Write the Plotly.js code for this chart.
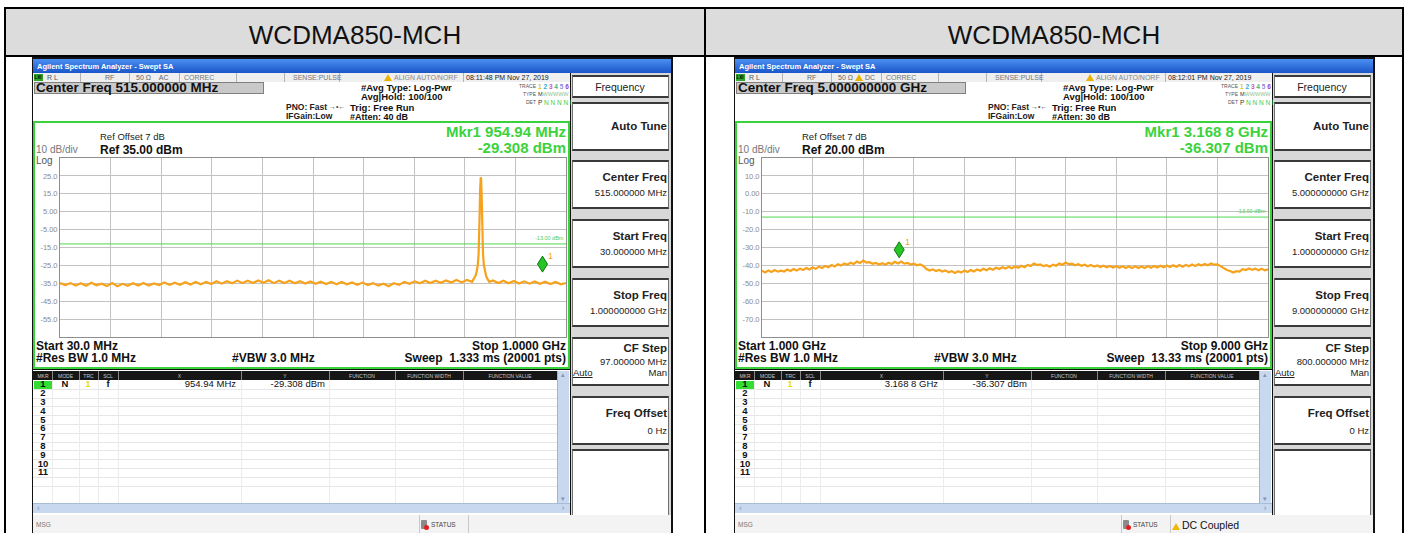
<!DOCTYPE html>
<html><head><meta charset="utf-8">
<script src="https://cdn.plot.ly/plotly-3.0.1.min.js"></script>
<style>
html,body{margin:0;padding:0;background:#fff;}
body{width:1408px;height:533px;overflow:hidden;position:relative;font-family:"Liberation Sans",Arial,sans-serif;}
.a{position:absolute;white-space:nowrap;}
.tri{display:inline-block;width:0;height:0;border-left:4px solid transparent;border-right:4px solid transparent;border-bottom:7px solid #e8b400;vertical-align:-1px;margin-right:2px;}
</style></head><body>
<script>
// ---------------- data ----------------
const panelTitles = ["WCDMA850-MCH", "WCDMA850-MCH"];

// Left sweep: 30 MHz - 1 GHz (MHz, dBm)
const freqL = [30,40,50,60,70,80,90,100,110,120,130,140,150,160,170,180,190,200,210,220,
  230,240,250,260,270,280,290,300,310,320,330,340,350,360,370,380,390,400,410,420,
  430,440,450,460,470,480,490,500,510,520,530,540,550,560,570,580,590,600,610,620,
  630,640,650,660,670,680,690,700,710,720,730,740,750,760,770,780,790,800,810,820,
  824,827,829,831,832.5,833.5,834.5,835.3,836,836.6,837.2,838,838.8,839.8,841,842.5,844.5,847,850,853,
  860,870,880,890,900,910,920,930,940,950,960,970,980,990,1000];
const ampL = [-34.8,-36.0,-34.9,-36.3,-35.0,-36.4,-34.7,-36.1,-35.2,-36.5,
  -34.9,-36.6,-35.3,-36.4,-35.0,-36.2,-34.8,-36.3,-35.1,-36.0,
  -34.6,-35.9,-34.7,-35.8,-34.4,-35.7,-34.3,-35.5,-34.2,-35.4,
  -33.9,-35.2,-33.8,-35.0,-33.5,-34.9,-33.6,-34.8,-33.4,-34.7,
  -33.3,-34.9,-33.5,-34.8,-33.6,-35.0,-33.8,-35.1,-34.0,-35.3,
  -34.1,-35.4,-34.2,-35.5,-34.3,-35.6,-34.5,-35.8,-34.6,-36.0,
  -34.9,-36.3,-35.2,-36.6,-35.0,-35.9,-34.2,-35.3,-33.9,-35.0,
  -33.6,-34.8,-33.5,-34.7,-33.4,-34.6,-33.2,-34.5,-33.1,-34.2,
  -32.0,-30.5,-28.2,-24.5,-18.5,-10.0,4.0,17.0,23.5,24.2,23.6,17.5,4.5,-10.0,-19.0,-24.8,-28.6,-31.0,-32.8,-34.2,
  -33.4,-34.8,-33.6,-35.0,-33.7,-35.1,-33.9,-35.2,-34.0,-35.3,-34.1,-35.4,-34.3,-35.6,-34.8];

// Right sweep: 1 GHz - 9 GHz (GHz, dBm)
const freqR = [1.00,1.05,1.10,1.15,1.20,1.25,1.30,1.35,1.40,1.45,
  1.50,1.55,1.60,1.65,1.70,1.75,1.80,1.85,1.90,1.95,
  2.00,2.05,2.10,2.15,2.20,2.25,2.30,2.35,2.40,2.45,
  2.50,2.55,2.60,2.65,2.70,2.75,2.80,2.85,2.90,2.95,
  3.00,3.05,3.10,3.15,3.20,3.25,3.30,3.35,3.40,3.45,
  3.50,3.55,3.60,3.65,3.70,3.75,3.80,3.85,3.90,3.95,
  4.00,4.05,4.10,4.15,4.20,4.25,4.30,4.35,4.40,4.45,
  4.50,4.55,4.60,4.65,4.70,4.75,4.80,4.85,4.90,4.95,
  5.00,5.05,5.10,5.15,5.20,5.25,5.30,5.35,5.40,5.45,
  5.50,5.55,5.60,5.65,5.70,5.75,5.80,5.85,5.90,5.95,
  6.00,6.05,6.10,6.15,6.20,6.25,6.30,6.35,6.40,6.45,
  6.50,6.55,6.60,6.65,6.70,6.75,6.80,6.85,6.90,6.95,
  7.00,7.05,7.10,7.15,7.20,7.25,7.30,7.35,7.40,7.45,
  7.50,7.55,7.60,7.65,7.70,7.75,7.80,7.85,7.90,7.95,
  8.00,8.05,8.10,8.15,8.20,8.25,8.30,8.35,8.40,8.45,
  8.50,8.55,8.60,8.65,8.70,8.75,8.80,8.85,8.90,8.95,9.00];
const ampR = [-43.0,-43.9,-42.8,-43.7,-42.6,-43.5,-42.9,-43.4,-42.3,-43.1,
  -42.0,-42.9,-41.8,-42.6,-41.5,-42.3,-41.2,-41.9,-40.7,-41.5,
  -40.3,-41.0,-39.8,-40.6,-39.3,-40.1,-38.9,-39.6,-38.5,-39.2,
  -37.9,-38.7,-37.3,-38.4,-38.2,-39.1,-38.6,-39.5,-38.8,-39.6,
  -38.5,-39.2,-38.0,-38.9,-37.9,-39.0,-38.6,-39.5,-39.0,-39.9,
  -39.4,-40.3,-42.0,-42.9,-42.2,-43.1,-42.5,-43.4,-42.8,-43.8,
  -43.2,-44.2,-43.3,-44.0,-42.9,-43.7,-42.6,-43.4,-42.3,-43.0,
  -41.9,-42.7,-41.6,-42.4,-41.3,-42.0,-41.0,-41.8,-40.8,-41.6,
  -40.6,-41.3,-40.2,-41.0,-39.7,-40.3,-38.9,-39.8,-39.5,-40.4,
  -39.9,-40.7,-39.6,-40.2,-38.9,-39.6,-38.4,-39.3,-39.0,-39.9,
  -39.3,-40.2,-39.6,-40.5,-39.8,-40.7,-40.0,-40.9,-40.2,-41.1,
  -40.3,-41.2,-40.4,-41.3,-40.5,-41.4,-40.6,-41.5,-40.5,-41.4,
  -40.6,-41.5,-40.4,-41.3,-40.3,-41.2,-40.2,-41.0,-40.1,-40.9,
  -39.9,-40.8,-39.8,-40.7,-39.7,-40.5,-39.5,-40.3,-39.3,-40.1,
  -39.2,-39.9,-38.9,-39.6,-39.4,-40.6,-41.3,-42.6,-43.1,-44.0,
  -43.2,-43.4,-42.1,-42.6,-41.7,-42.5,-41.8,-42.7,-41.9,-42.8,-42.2];

const sweepRanges = [[30, 1000], [1, 9]];
const refLevels = [35, 20];            // dBm, 10 dB/div, 10 divisions
const yTickValsL = [25, 15, 5, -5, -15, -25, -35, -45, -55];
const yTickTextL = ["25.0", "15.0", "5.00", "-5.00", "-15.0", "-25.0", "-35.0", "-45.0", "-55.0"];
const yTickValsR = [10, 0, -10, -20, -30, -40, -50, -60, -70];
const yTickTextR = ["10.0", "0.00", "-10.0", "-20.0", "-30.0", "-40.0", "-50.0", "-60.0", "-70.0"];
const markerFreqs = [954.94, 3.1688];
const markerAmps = [-29.308, -36.307];
const limitDbm = -13;

// screen texts for each analyzer capture
const screens = [
  {dx: 0, time: "08:11:48 PM Nov 27, 2019", dc: false, cf: "Center Freq 515.000000 MHz", atten: "#Atten: 40 dB",
   mkr: "Mkr1 954.94 MHz", mkrVal: "-29.308 dBm", ref: "Ref 35.00 dBm", start: "Start 30.0 MHz", stop: "Stop 1.0000 GHz",
   sweep: "Sweep&nbsp;&nbsp;1.333 ms (20001 pts)", soft: ["515.000000 MHz", "30.000000 MHz", "1.000000000 GHz", "97.000000 MHz"],
   tblX: "954.94 MHz", tblY: "-29.308 dBm"},
  {dx: 702, time: "08:12:01 PM Nov 27, 2019", dc: true, cf: "Center Freq 5.000000000 GHz", atten: "#Atten: 30 dB",
   mkr: "Mkr1 3.168 8 GHz", mkrVal: "-36.307 dBm", ref: "Ref 20.00 dBm", start: "Start 1.000 GHz", stop: "Stop 9.000 GHz",
   sweep: "Sweep&nbsp;&nbsp;13.33 ms (20001 pts)", soft: ["5.000000000 GHz", "1.000000000 GHz", "9.000000000 GHz", "800.000000 MHz"],
   tblX: "3.168 8 GHz", tblY: "-36.307 dBm"}
];

// ---------------- helpers ----------------
const B = document.body;
function box(x, y, w, h, css) {
  const d = document.createElement('div'); d.className = 'a';
  d.style.cssText = `left:${x}px;top:${y}px;width:${w}px;height:${h}px;` + (css || '');
  B.appendChild(d); return d;
}
function tx(x, yc, s, size, css, al, hh) {
  const d = document.createElement('div'); d.className = 'a';
  const h = hh || Math.ceil(size * 1.1);
  let st = `top:${(yc - h / 2).toFixed(1)}px;height:${h}px;line-height:${h}px;font-size:${size}px;`;
  if (al === 'r') st += `left:${x - 600}px;width:600px;text-align:right;`;
  else if (al === 'c') st += `left:${x - 300}px;width:600px;text-align:center;`;
  else st += `left:${x}px;`;
  d.style.cssText = st + (css || ''); d.innerHTML = s; B.appendChild(d); return d;
}

// ---------------- table frame ----------------
box(6, 9, 698, 46, 'background:#dcdcdc');
box(706, 9, 696, 46, 'background:#dcdcdc');
box(4, 7, 1400, 2, 'background:#000');
box(4, 55, 1400, 2, 'background:#000');
box(4, 7, 2, 526, 'background:#000');
box(704, 7, 2, 526, 'background:#000');
box(1402, 7, 2, 526, 'background:#000');
tx(355, 35, panelTitles[0], 26, 'color:#111', 'c');
tx(1054, 35, panelTitles[1], 26, 'color:#111', 'c');

// ---------------- analyzer screens ----------------
const bold = 'font-weight:bold;';
function shot(p) {
  const dx = p.dx;
  box(32 + dx, 57, 641, 476, 'background:#111');
  box(33 + dx, 59, 638, 14, 'background:linear-gradient(#4a90f2,#1b56c9)');
  tx(37 + dx, 66, 'Agilent Spectrum Analyzer - Swept SA', 7.5, 'color:#fff;' + bold);
  // status line
  box(33 + dx, 73, 537, 9, 'background:#efefef');
  [80, 129, 179, 236, 284, 339, 463].forEach(x => box(x + dx, 73, 1, 9, 'background:#b4b4b4'));
  box(34 + dx, 74, 9, 7, 'background:#2fa52f');
  tx(34.5 + dx, 77.5, 'LXI', 4.5, 'color:#000;' + bold);
  tx(47 + dx, 77.5, 'R L', 7, 'color:#555');
  tx(105 + dx, 77.5, 'RF', 7, 'color:#666');
  tx(136 + dx, 77.5, p.dc ? '50 Ω <span class="tri"></span>DC' : '50 Ω&nbsp;&nbsp;&nbsp;&nbsp;AC', 7, 'color:#666');
  tx(184 + dx, 77.5, 'CORREC', 7, 'color:#777');
  tx(293 + dx, 77.5, 'SENSE:PULSE', 7, 'color:#777');
  tx(384 + dx, 77.5, '<span class="tri"></span>ALIGN AUTO/NORF', 7, 'color:#888');
  tx(466 + dx, 77.5, p.time, 7, 'color:#222');
  // settings area
  box(33 + dx, 82, 537, 39, 'background:#fff');
  box(34 + dx, 82, 230, 12, 'background:#c9c9c9;border:1px solid #808080;box-sizing:border-box');
  tx(36 + dx, 88, p.cf, 13.5, 'color:#111;' + bold, null, 12);
  tx(361 + dx, 87, '#Avg Type: Log-Pwr', 9.5, 'color:#111;' + bold, null, 9);
  tx(361 + dx, 96, 'Avg|Hold: 100/100', 9.5, 'color:#111;' + bold, null, 9);
  tx(286 + dx, 107, 'PNO: Fast', 8.5, 'color:#222;' + bold, null, 9);
  tx(329 + dx, 107, '→•←', 7, 'color:#444', null, 8);
  tx(286 + dx, 116.5, 'IFGain:Low', 8.5, 'color:#222;' + bold, null, 9);
  tx(350 + dx, 107, 'Trig: Free Run', 9.5, 'color:#111;' + bold, null, 9);
  tx(350 + dx, 117, p.atten, 9, 'color:#111;' + bold, null, 9);
  tx(536 + dx, 86, 'TRACE', 5, 'color:#555', 'r', 7);
  tx(538 + dx, 86, '<span style="color:#d8cc00">1</span> <span style="color:#33aadd">2</span> <span style="color:#cc55cc">3</span> <span style="color:#33bb88">4</span> <span style="color:#8888ee">5</span> <span style="color:#9944cc">6</span>', 6.5, bold, null, 7);
  tx(536 + dx, 94, 'TYPE', 5, 'color:#555', 'r', 7);
  tx(538 + dx, 94, '<span style="color:#333">M</span><span style="color:#8fbf8f">WWWWW</span>', 5.5, '', null, 7);
  tx(536 + dx, 102, 'DET', 5, 'color:#555', 'r', 7);
  tx(538 + dx, 102, '<span style="color:#333">P</span> <span style="color:#44cc44">N N N N N</span>', 6.5, '', null, 7);
  // green display frame
  box(33 + dx, 121, 537, 248, 'border:2px solid #3ad23a;background:#fff;box-sizing:border-box');
  tx(100 + dx, 137, 'Ref Offset 7 dB', 9.5, 'color:#222', null, 10);
  tx(36 + dx, 150, '10 dB/div', 10, 'color:#777', null, 10);
  tx(100 + dx, 149.5, p.ref, 12, 'color:#111;' + bold, null, 12);
  tx(36 + dx, 160, 'Log', 10, 'color:#555', null, 9);
  tx(566 + dx, 131.5, p.mkr, 15, 'color:#3cd23c;' + bold, 'r', 15);
  tx(566 + dx, 147, p.mkrVal, 15, 'color:#3cd23c;' + bold, 'r', 15);
  tx(36 + dx, 346, p.start, 12, 'color:#111;' + bold, null, 12);
  tx(566 + dx, 346, p.stop, 12, 'color:#111;' + bold, 'r', 12);
  tx(36 + dx, 358, '#Res BW 1.0 MHz', 12, 'color:#111;' + bold, null, 12);
  tx(232 + dx, 358, '#VBW 3.0 MHz', 12, 'color:#111;' + bold, null, 12);
  tx(566 + dx, 358, p.sweep, 12, 'color:#111;' + bold, 'r', 12);
  // soft keys
  box(571 + dx, 73, 100, 447, 'background:#d8d8d8');
  const sk = 'background:#fff;border:1px solid #707070;border-top:2px solid #3a3a3a;border-bottom:2px solid #3a3a3a;box-sizing:border-box';
  box(572 + dx, 75, 97, 23, sk);
  tx(620 + dx, 87, 'Frequency', 10.5, 'color:#222', 'c');
  const tops = [102, 160, 219, 278, 337, 396];
  tops.forEach(t => box(572 + dx, t, 97, 49, sk));
  box(572 + dx, 449, 97, 68, sk);
  tx(667 + dx, 126, 'Auto Tune', 11.5, 'color:#222;' + bold, 'r');
  tx(667 + dx, 177, 'Center Freq', 11.5, 'color:#222;' + bold, 'r');
  tx(667 + dx, 192, p.soft[0], 9.5, 'color:#222', 'r');
  tx(667 + dx, 236, 'Start Freq', 11.5, 'color:#222;' + bold, 'r');
  tx(667 + dx, 251, p.soft[1], 9.5, 'color:#222', 'r');
  tx(667 + dx, 295, 'Stop Freq', 11.5, 'color:#222;' + bold, 'r');
  tx(667 + dx, 310, p.soft[2], 9.5, 'color:#222', 'r');
  tx(667 + dx, 348, 'CF Step', 11.5, 'color:#222;' + bold, 'r', 12);
  tx(667 + dx, 362, p.soft[3], 9.5, 'color:#222', 'r', 10);
  tx(573 + dx, 373, 'Auto', 9.5, 'color:#222;text-decoration:underline', null, 10);
  tx(667 + dx, 373, 'Man', 9.5, 'color:#222', 'r', 10);
  tx(667 + dx, 413, 'Freq Offset', 11.5, 'color:#222;' + bold, 'r');
  tx(667 + dx, 430, '0 Hz', 9.5, 'color:#222', 'r');
  // marker table
  box(33 + dx, 370, 537, 145, 'background:#fff');
  box(33 + dx, 371, 524, 9, 'background:#161616');
  const cols = [34, 52, 79, 98, 118, 241, 329, 395, 463, 557];
  const heads = ['MKR', 'MODE', 'TRC', 'SCL', 'X', 'Y', 'FUNCTION', 'FUNCTION WIDTH', 'FUNCTION VALUE'];
  for (let c = 0; c < heads.length; c++) {
    if (c > 0) box(cols[c] + dx, 371, 1, 9, 'background:#888');
    tx((cols[c] + cols[c + 1]) / 2 + dx, 375.5, heads[c], 5, 'color:#c8c8c8', 'c', 6);
  }
  for (let k = 1; k <= 12; k++) box(33 + dx, 380 + k * 8.8, 524, 1, 'background:#e6e6e6');
  for (let c = 1; c < cols.length - 1; c++) box(cols[c] + dx, 380, 1, 123, 'background:#ececec');
  box(34 + dx, 380.5, 18, 8, 'background:#33dd33');
  for (let k = 0; k < 11; k++) tx(43 + dx, 384.6 + k * 8.8, String(k + 1), 9.5, 'color:#111;' + bold, 'c', 8.6);
  tx(65 + dx, 384.6, 'N', 9.5, 'color:#111;' + bold, 'c', 8.6);
  tx(88 + dx, 384.6, '1', 9, 'color:#e8e000;' + bold, 'c', 8.6);
  tx(108 + dx, 384.6, 'f', 9.5, 'color:#111;' + bold, 'c', 8.6);
  tx(236 + dx, 384.6, p.tblX, 9.5, 'color:#111', 'r', 8.6);
  tx(325 + dx, 384.6, p.tblY, 9.5, 'color:#111', 'r', 8.6);
  box(557 + dx, 371, 12, 132, 'background:#c8d8ef;border-left:1px solid #a0b4cc;box-sizing:border-box');
  tx(563 + dx, 375, '▴', 7, 'color:#7f95b5', 'c');
  tx(563 + dx, 499, '▾', 7, 'color:#7f95b5', 'c');
  box(33 + dx, 503, 537, 10, 'background:#c8d8ef;border-top:1px solid #a9bcd6;box-sizing:border-box');
  tx(37 + dx, 508, '‹', 9, 'color:#7f95b5');
  tx(563 + dx, 508, '›', 9, 'color:#7f95b5', 'c');
  box(33 + dx, 515, 638, 18, 'background:#f3f3f3');
  tx(36 + dx, 525, 'MSG', 6.5, 'color:#777');
  box(419 + dx, 515, 1, 18, 'background:#c8c8c8');
  box(421 + dx, 520, 6, 9, 'background:#8a8a8a;border-radius:1px');
  box(424 + dx, 525, 5, 5, 'background:#e02020;border-radius:3px');
  tx(431 + dx, 525, 'STATUS', 6.5, 'color:#444');
  box(468 + dx, 515, 1, 18, 'background:#c8c8c8');
  if (p.dc) tx(470 + dx, 525, '<span class="tri" style="border-bottom-color:#f0b800"></span>DC Coupled', 10.5, 'color:#111');
}
screens.forEach(shot);

// ---------------- spectrum plots ----------------
function plot(i, freqs, amps, ticksV, ticksT) {
  const dx = screens[i].dx;
  const d = document.createElement('div'); d.className = 'a';
  d.style.cssText = `left:${34 + dx}px;top:156px;width:536px;height:184px;`;
  B.appendChild(d);
  const [f0, f1] = sweepRanges[i];
  const traces = [
    {x: [f0, f1], y: [limitDbm, limitDbm], mode: 'lines', line: {color: '#4fd84f', width: 1}, hoverinfo: 'skip'},
    {x: freqs, y: amps, mode: 'lines', line: {color: '#f6a21c', width: 2.2}, hoverinfo: 'skip'}
  ];
  const layout = {
    width: 536, height: 184, margin: {l: 26, r: 4, t: 2, b: 3},
    paper_bgcolor: 'rgba(0,0,0,0)', plot_bgcolor: '#fff', showlegend: false,
    font: {family: 'Liberation Sans, Arial, sans-serif'},
    xaxis: {range: [f0, f1], tick0: f0, dtick: (f1 - f0) / 10, showgrid: true, gridcolor: '#c2c2c2', gridwidth: 1,
      showticklabels: false, zeroline: false, showline: true, mirror: true, linecolor: '#8e8e8e', ticks: ''},
    yaxis: {range: [refLevels[i] - 100, refLevels[i]], tickvals: ticksV, ticktext: ticksT, showgrid: true,
      gridcolor: '#c2c2c2', gridwidth: 1, zeroline: false, showline: true, mirror: true, linecolor: '#8e8e8e',
      ticks: '', tickfont: {size: 7.5, color: '#8a8a8a'}},
    shapes: [{type: 'path', xref: 'x', yref: 'y', xsizemode: 'pixel', ysizemode: 'pixel',
      xanchor: markerFreqs[i], yanchor: markerAmps[i], path: 'M0,1 L5,9 L0,17 L-5,9 Z',
      fillcolor: '#27c427', line: {color: '#117711', width: 1}}],
    annotations: [
      {x: f1, y: limitDbm, xref: 'x', yref: 'y', text: '-13.00 dBm', showarrow: false, xanchor: 'right', yanchor: 'bottom',
        font: {size: 5.5, color: '#55cc55'}, yshift: 1},
      {x: markerFreqs[i], y: markerAmps[i], xref: 'x', yref: 'y', text: '1', showarrow: false, xanchor: 'left', yanchor: 'bottom',
        xshift: 4, yshift: 10, font: {size: 9, color: '#f6a21c'}}
    ]
  };
  Plotly.newPlot(d, traces, layout, {staticPlot: true, displayModeBar: false});
}
plot(0, freqL, ampL, yTickValsL, yTickTextL);
plot(1, freqR, ampR, yTickValsR, yTickTextR);
</script>
</body></html>
